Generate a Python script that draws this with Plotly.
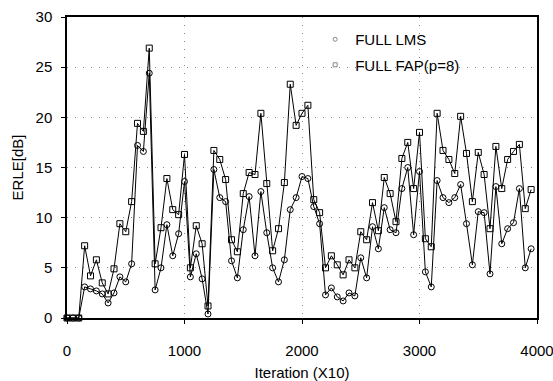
import plotly.graph_objects as go

iterations = list(range(0, 4000, 50))

fap = [0, 0, 0, 7.2, 4.2, 5.8, 3.5, 2.4, 4.9, 9.4,
       8.6, 11.6, 19.4, 18.6, 26.9, 5.4, 9.0, 13.9, 10.8, 10.3,
       16.3, 5.0, 9.2, 7.4, 1.2, 16.7, 15.8, 13.8, 7.8, 6.6,
       12.4, 14.5, 14.3, 20.4, 13.4, 6.7, 8.9, 13.5, 23.3, 19.2,
       20.4, 21.2, 11.8, 10.5, 5.0, 6.2, 5.3, 4.3, 5.8, 5.0,
       8.6, 7.8, 11.5, 8.7, 14.0, 12.4, 9.6, 15.9, 17.5, 12.9,
       18.5, 7.9, 7.1, 20.4, 16.7, 15.8, 14.4, 20.1, 16.4, 11.6,
       16.5, 14.3, 8.9, 17.1, 12.9, 15.8, 16.6, 17.3, 10.9, 12.8]

lms = [0, 0, 0, 3.1, 2.9, 2.7, 2.4, 1.5, 2.5, 4.1,
       3.6, 5.4, 17.2, 16.6, 24.4, 2.8, 5.0, 9.3, 6.2, 8.4,
       13.6, 4.1, 6.4, 3.9, 0.4, 14.8, 12.0, 11.6, 5.7, 4.0,
       8.8, 12.1, 6.2, 12.6, 8.5, 5.0, 3.6, 5.8, 10.8, 12.0,
       14.1, 13.9, 11.1, 9.4, 2.3, 3.0, 2.1, 1.7, 2.5, 2.2,
       6.0, 4.0, 9.1, 6.9, 11.0, 8.8, 8.5, 12.9, 15.0, 8.3,
       14.6, 4.6, 3.1, 13.7, 12.0, 11.5, 12.0, 13.3, 9.4, 5.3,
       10.6, 10.5, 4.4, 13.1, 7.4, 8.9, 9.5, 12.9, 5.0, 6.9]

series_names = ["FULL LMS", "FULL FAP(p=8)"]
x_ticks = [0, 1000, 2000, 3000, 4000]
y_ticks = [0, 5, 10, 15, 20, 25, 30]

FONT = "Liberation Sans, Arial, sans-serif"

fig = go.Figure()

fig.add_trace(go.Scatter(
    x=iterations, y=fap, mode="lines+markers", showlegend=False,
    line=dict(color="black", width=1),
    marker=dict(symbol="square-open", size=6, color="black", line=dict(width=1)),
    cliponaxis=False,
))
fig.add_trace(go.Scatter(
    x=iterations, y=lms, mode="lines+markers", showlegend=False,
    line=dict(color="black", width=1),
    marker=dict(symbol="circle-open", size=6, color="black", line=dict(width=1)),
    cliponaxis=False,
))
# legend-only entries (marker only, as in the reference)
fig.add_trace(go.Scatter(
    x=[None], y=[None], mode="markers", name=series_names[0], legendgroup="a",
    marker=dict(symbol="circle-open", size=4, color="#888", line=dict(width=1)),
))
fig.add_trace(go.Scatter(
    x=[None], y=[None], mode="markers", name=series_names[1], legendgroup="b",
    marker=dict(symbol="square-open", size=4, color="#888", line=dict(width=1)),
))

axis_common = dict(
    showline=True, linecolor="black", linewidth=1.5, mirror=True,
    ticks="outside", ticklen=4, tickcolor="black",
    showgrid=True, gridcolor="#888888", griddash="1px,7px", gridwidth=1,
    zeroline=False, automargin=False,
    tickfont=dict(family=FONT, size=15, color="black"),
)

fig.update_layout(
    width=553, height=381,
    margin=dict(l=67, r=16, t=17, b=63),
    paper_bgcolor="white", plot_bgcolor="white",
    font=dict(family=FONT, size=15, color="black"),
    xaxis=dict(range=[0, 4000], tickvals=x_ticks, ticklabelstandoff=14,
               ticklabeloverflow="allow",
               title=dict(text="Iteration (X10)", standoff=16,
                          font=dict(family=FONT, size=15)),
               **axis_common),
    yaxis=dict(range=[0, 30], tickvals=y_ticks, ticklabelstandoff=6,
               title=dict(text="ERLE[dB]", standoff=8,
                          font=dict(family=FONT, size=15)),
               **axis_common),
    legend=dict(x=0.528, y=0.98, xanchor="left", yanchor="top",
                bgcolor="rgba(0,0,0,0)", font=dict(family=FONT, size=15),
                traceorder="grouped", tracegroupgap=3, itemwidth=30),
)

fig.write_html("out.html")
